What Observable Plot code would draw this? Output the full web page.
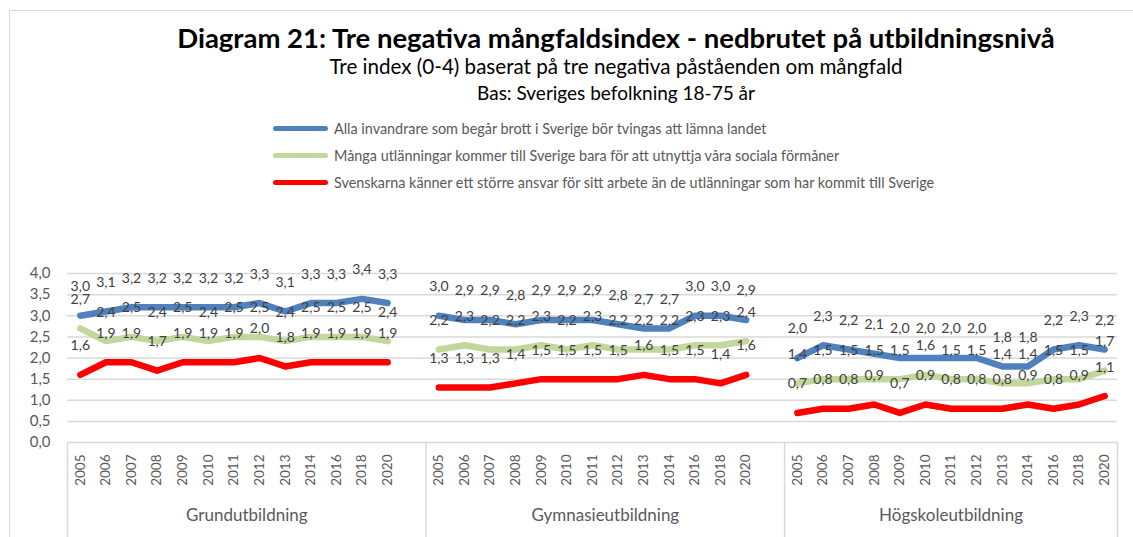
<!DOCTYPE html>
<html>
<head>
<meta charset="utf-8">
<script src="https://cdn.jsdelivr.net/npm/d3@7"></script>
<script src="https://cdn.jsdelivr.net/npm/@observablehq/plot@0.6"></script>
<style>
  html, body { margin: 0; padding: 0; background: #fff; }
  #page { position: relative; width: 1133px; height: 537px; overflow: hidden; font-family: Lato, "Open Sans", sans-serif; }
  #frame { position: absolute; left: 9px; top: 10px; width: 1200px; height: 600px; border-top: 1.5px solid #D9D9D9; border-left: 1.5px solid #D9D9D9; }
  .ctr { position: absolute; left: 616px; transform: translateX(-50%); white-space: nowrap; color: #000; line-height: 1; }
  #title { top: 24px; font-weight: bold; font-size: 27.5px; }
  #sub1 { top: 56px; font-size: 20.6px; }
  #sub2 { top: 83px; font-size: 19px; }
  .leg { position: absolute; left: 273px; height: 20px; display: flex; align-items: center; font-size: 14.4px; color: #595959; white-space: nowrap; }
  .sw { width: 55px; height: 5px; border-radius: 3px; margin-right: 6px; }
  #chart { position: absolute; left: 0; top: 200px; }
</style>
</head>
<body>
<div id="page">
  <div id="frame"></div>
  <div id="title" class="ctr"></div>
  <div id="sub1" class="ctr"></div>
  <div id="sub2" class="ctr"></div>
  <div id="legend"></div>
  <div id="chart"></div>
</div>
<script>
const titleText = "Diagram 21: Tre negativa mångfaldsindex - nedbrutet på utbildningsnivå";
const subtitle1 = "Tre index (0-4) baserat på tre negativa påståenden om mångfald";
const subtitle2 = "Bas: Sveriges befolkning 18-75 år";

const years = ["2005","2006","2007","2008","2009","2010","2011","2012","2013","2014","2016","2018","2020"];
const groups = ["Grundutbildning", "Gymnasieutbildning", "Högskoleutbildning"];
const seriesNames = [
  "Alla invandrare som begår brott i Sverige bör tvingas att lämna landet",
  "Många utlänningar kommer till Sverige bara för att utnyttja våra sociala förmåner",
  "Svenskarna känner ett större ansvar för sitt arbete än de utlänningar som har kommit till Sverige"
];
const seriesColors = ["#4F81BD", "#C3D69B", "#FF0000"];

// values per series, per group (Grund, Gymnasie, Högskole)
const brott = [
  [3.0,3.1,3.2,3.2,3.2,3.2,3.2,3.3,3.1,3.3,3.3,3.4,3.3],
  [3.0,2.9,2.9,2.8,2.9,2.9,2.9,2.8,2.7,2.7,3.0,3.0,2.9],
  [2.0,2.3,2.2,2.1,2.0,2.0,2.0,2.0,1.8,1.8,2.2,2.3,2.2]
];
const formaner = [
  [2.7,2.4,2.5,2.4,2.5,2.4,2.5,2.5,2.4,2.5,2.5,2.5,2.4],
  [2.2,2.3,2.2,2.2,2.3,2.2,2.3,2.2,2.2,2.2,2.3,2.3,2.4],
  [1.4,1.5,1.5,1.5,1.5,1.6,1.5,1.5,1.4,1.4,1.5,1.5,1.7]
];
const ansvar = [
  [1.6,1.9,1.9,1.7,1.9,1.9,1.9,2.0,1.8,1.9,1.9,1.9,1.9],
  [1.3,1.3,1.3,1.4,1.5,1.5,1.5,1.5,1.6,1.5,1.5,1.4,1.6],
  [0.7,0.8,0.8,0.9,0.7,0.9,0.8,0.8,0.8,0.9,0.8,0.9,1.1]
];
const yTicks = [0, 0.5, 1, 1.5, 2, 2.5, 3, 3.5, 4];

const allSeries = [brott, formaner, ansvar];
const slotsPerGroup = years.length + 1; // an empty slot between groups
const rows = [];
const xTicks = [];
const xLabels = new Map();
groups.forEach((g, gi) => {
  years.forEach((yr, yi) => {
    const idx = gi * slotsPerGroup + yi;
    xTicks.push(idx);
    xLabels.set(idx, yr);
    allSeries.forEach((s, si) => {
      rows.push({idx, group: g, series: seriesNames[si], value: s[gi][yi]});
    });
  });
});
const lastIdx = (groups.length - 1) * slotsPerGroup + years.length - 1;
const seps = groups.map((g, gi) => gi * slotsPerGroup - 0.5).concat([lastIdx + 0.5]);
const groupCenters = groups.map((g, gi) => ({group: g, x: (seps[gi] + seps[gi + 1]) / 2}));

document.getElementById("title").textContent = titleText;
document.getElementById("sub1").textContent = subtitle1;
document.getElementById("sub2").textContent = subtitle2;
const legend = document.getElementById("legend");
seriesNames.forEach((name, i) => {
  const row = document.createElement("div");
  row.className = "leg";
  row.style.top = (118 + i * 27) + "px";
  const sw = document.createElement("div");
  sw.className = "sw";
  sw.style.background = seriesColors[i];
  const tx = document.createElement("span");
  tx.textContent = name;
  row.appendChild(sw); row.appendChild(tx);
  legend.appendChild(row);
});

const fmt = v => v.toFixed(1).replace(".", ",");
const W = 1133, H = 337, mT = 73, mB = 95, mL = 67, mR = 16;
const plotH = H - mT - mB;

const chart = Plot.plot({
  width: W, height: H,
  marginTop: mT, marginBottom: mB, marginLeft: mL, marginRight: mR,
  style: {fontFamily: "Lato, 'Open Sans', sans-serif", background: "transparent", overflow: "visible"},
  x: {type: "linear", domain: [-0.5, lastIdx + 0.5]},
  y: {domain: [0, 4]},
  color: {domain: seriesNames, range: seriesColors},
  marks: [
    Plot.gridY(yTicks, {stroke: "#D9D9D9", strokeOpacity: 1, strokeWidth: 1.5}),
    Plot.ruleX(seps, {stroke: "#D9D9D9", strokeWidth: 1.5, insetTop: plotH, insetBottom: -mB}),
    Plot.axisY(yTicks, {tickSize: 0, tickPadding: 17, tickFormat: fmt, fontSize: 15, color: "#595959", label: null}),
    Plot.axisX(xTicks, {tickSize: 0, tickPadding: 12, tickRotate: -90, tickFormat: i => xLabels.get(i), fontSize: 13.5, color: "#595959", label: null}),
    Plot.text(groupCenters, {x: "x", text: "group", frameAnchor: "bottom", dy: 78, fontSize: 17, fill: "#595959"}),
    Plot.line(rows, {x: "idx", y: "value", z: d => d.series + d.group, stroke: "series", strokeWidth: 6.5, strokeLinecap: "round", strokeLinejoin: "round"}),
    Plot.text(rows, {x: "idx", y: "value", text: d => fmt(d.value), dy: -29, fontSize: 14, fill: "#404040"})
  ]
});
document.getElementById("chart").appendChild(chart);
</script>
</body>
</html>
